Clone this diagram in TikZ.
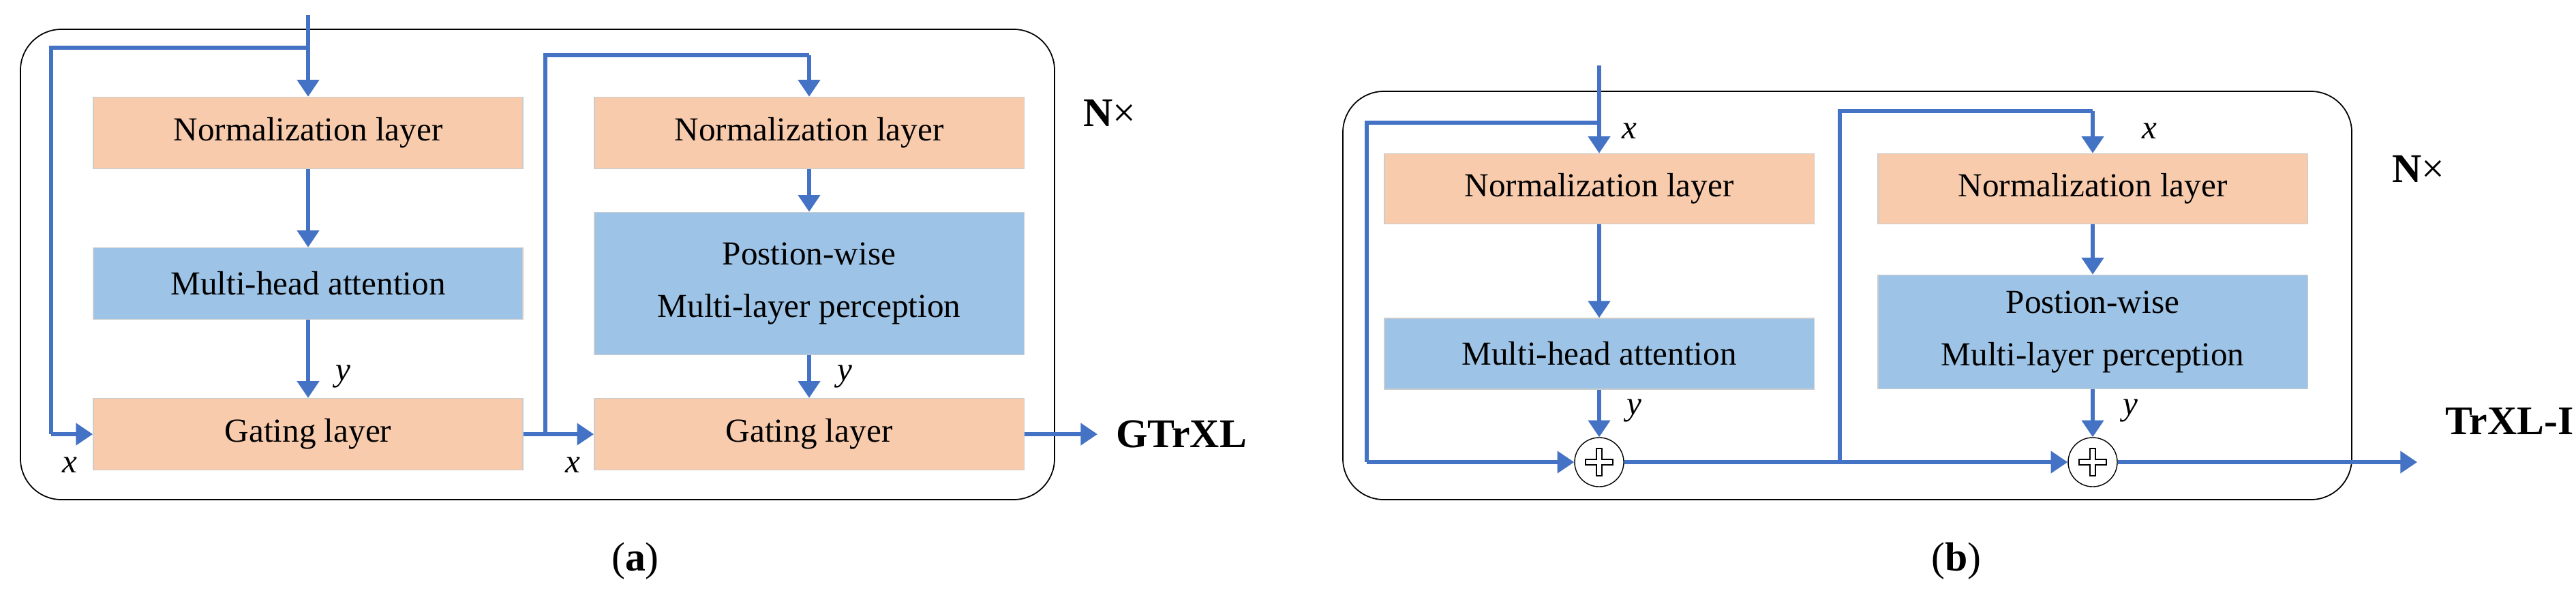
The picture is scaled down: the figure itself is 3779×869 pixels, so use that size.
\documentclass[tikz,border=0pt]{standalone}
\usepackage{fontspec}
\setmainfont{Liberation Serif}
\usetikzlibrary{arrows.meta}
\definecolor{org}{HTML}{F8CBAD}
\definecolor{blu}{HTML}{9DC3E6}
\definecolor{arr}{HTML}{4472C4}
\begin{document}
\begin{tikzpicture}[x=0.01cm,y=-0.01cm,
 box/.style={draw=black!20,line width=0.4pt,minimum width=6.3cm,inner sep=0pt,align=center,font=\fontsize{14}{22}\selectfont},
 ob/.style={box,fill=org,minimum height=1.05cm},
 bb/.style={box,fill=blu},
 ln/.style={draw=arr,line width=1.5pt},
 ar/.style={ln,-{Triangle[length=7pt,width=9pt]}},
 lab/.style={font=\fontsize{14}{16}\selectfont\itshape},
 big/.style={font=\fontsize{17}{20}\selectfont\bfseries},
 plus/.style={circle,draw=black,line width=0.4pt,fill=white,minimum size=0.72cm,inner sep=0pt}]
\useasboundingbox (0,0) rectangle (3779,869);
% ---------- (a)
\draw[line width=0.5pt,rounded corners=0.6cm] (30,43) rectangle (1547,733);
\node[ob] (n1) at (452,195) {Normalization layer};
\node[bb,minimum height=1.05cm] (m1) at (452,416) {Multi-head attention};
\node[ob] (g1) at (452,637) {Gating layer};
\node[ob] (n2) at (1187,195) {Normalization layer};
\node[bb,minimum height=2.09cm] (p2) at (1187,416) {Postion-wise\\Multi-layer perception};
\node[ob] (g2) at (1187,637) {Gating layer};
\coordinate (ina) at (452,22);
\coordinate (s1) at (75,70);
\coordinate (s1b) at (75,637);
\coordinate (s2a) at (800,637);
\coordinate (s2) at (800,81);
\coordinate (s2b) at (1187,81);
\coordinate (outa) at (1610,637);
\draw[ar] (ina) -- (n1);
\draw[ln] (452,70) -- (s1) -- (s1b);
\draw[ar] (s1b) -- (g1);
\draw[ar] (n1) -- (m1);
\draw[ar] (m1) -- (g1);
\draw[ar] (g1) -- (g2);
\draw[ln] (s2a) -- (s2) -- (s2b);
\draw[ar] (s2b) -- (n2);
\draw[ar] (n2) -- (p2);
\draw[ar] (p2) -- (g2);
\draw[ar] (g2) -- (outa);
\node[big,anchor=west] (gt) at (1625,637) {GTrXL};
\node[big,font=\fontsize{17}{20}\selectfont] (nxa) at (1628,166) {\textbf{N}×};
\node[lab] (xa1) at (102,682) {x};
\node[lab] (xa2) at (840,682) {x};
\node[lab] (ya1) at (503,552) {y};
\node[lab] (ya2) at (1239,552) {y};
\node[font=\fontsize{17}{20}\selectfont] (capa) at (932,823) {(\textbf{a})};
% ---------- (b)
\draw[line width=0.5pt,rounded corners=0.6cm] (1970,134) rectangle (3450,733);
\node[ob,minimum height=1.03cm] (bn1) at (2346,277) {Normalization layer};
\node[bb,minimum height=1.04cm] (bm1) at (2346,519) {Multi-head attention};
\node[ob,minimum height=1.03cm] (bn2) at (3070,277) {Normalization layer};
\node[bb,minimum height=1.67cm] (bp2) at (3070,487) {Postion-wise\\Multi-layer perception};
\node[plus] (c1) at (2346,678) {};
\node[plus] (c2) at (3070,678) {};
\foreach \c in {c1,c2}{
 \draw[line width=0.4pt,fill=white] ([shift={(-4,-20)}]\c.center) -- ++(8,0) -- ++(0,16) -- ++(16,0) -- ++(0,8) -- ++(-16,0) -- ++(0,16) -- ++(-8,0) -- ++(0,-16) -- ++(-16,0) -- ++(0,-8) -- ++(16,0) -- cycle;}
\coordinate (inb) at (2346,96);
\coordinate (t1) at (2005,180);
\coordinate (t1b) at (2005,678);
\coordinate (t2a) at (2699,678);
\coordinate (t2) at (2699,163);
\coordinate (t2b) at (3070,163);
\coordinate (outb) at (3546,678);
\draw[ar] (inb) -- (bn1);
\draw[ln] (2346,180) -- (t1) -- (t1b);
\draw[ar] (t1b) -- (c1);
\draw[ar] (bn1) -- (bm1);
\draw[ar] (bm1) -- (c1);
\draw[ar] (c1) -- (c2);
\draw[ln] (t2a) -- (t2) -- (t2b);
\draw[ar] (t2b) -- (bn2);
\draw[ar] (bn2) -- (bp2);
\draw[ar] (bp2) -- (c2);
\draw[ar] (c2) -- (outb);
\node[big,anchor=west] (tr) at (3575,618) {TrXL-I};
\node[font=\fontsize{17}{20}\selectfont] (nxb) at (3548,248) {\textbf{N}×};
\node[lab] (xb1) at (2390,192) {x};
\node[lab] (xb2) at (3153,192) {x};
\node[lab] (yb1) at (2397,602) {y};
\node[lab] (yb2) at (3125,602) {y};
\node[font=\fontsize{17}{20}\selectfont] (capb) at (2870,823) {(\textbf{b})};
\end{tikzpicture}
\end{document}
